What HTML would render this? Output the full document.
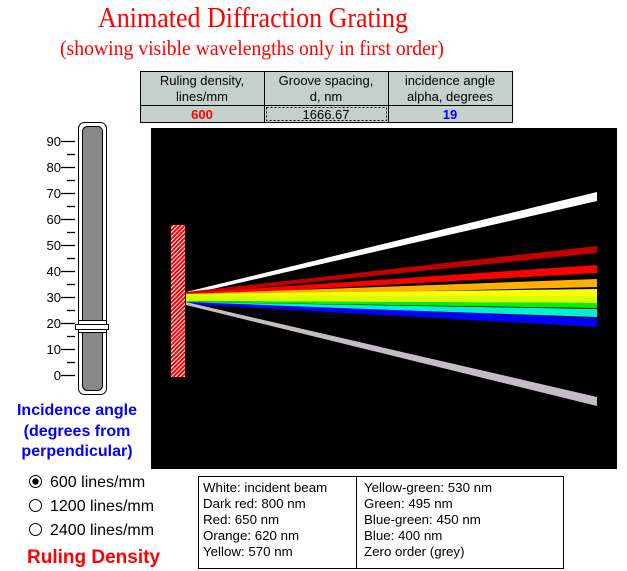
<!DOCTYPE html>
<html><head><style>body{margin:0;background:#fff;width:627px;height:571px;overflow:hidden}</style></head>
<body>
<svg width="627" height="571" xmlns="http://www.w3.org/2000/svg" style="display:block">
<defs>
<pattern id="h" width="3" height="3" patternUnits="userSpaceOnUse" patternTransform="rotate(45)">
<rect width="3" height="3" fill="#f00"/><rect width="1" height="3" fill="#fff"/></pattern>
</defs>
<text x="253" y="27" font-family="Liberation Serif,serif" font-size="29" fill="#f00" text-anchor="middle" textLength="310" lengthAdjust="spacingAndGlyphs">Animated Diffraction Grating</text>
<text x="252" y="55" font-family="Liberation Serif,serif" font-size="21" fill="#f00" text-anchor="middle" textLength="384" lengthAdjust="spacingAndGlyphs">(showing visible wavelengths only in first order)</text>
<g font-family="Liberation Sans,sans-serif" font-size="13" text-anchor="middle">
<rect x="140.5" y="71.5" width="372" height="51" fill="#c4d0cc" stroke="#000"/>
<line x1="140" y1="105.5" x2="512" y2="105.5" stroke="#000"/>
<line x1="264.5" y1="71" x2="264.5" y2="122" stroke="#000"/>
<line x1="388.5" y1="71" x2="388.5" y2="122" stroke="#000"/>
<rect x="266.5" y="107.5" width="120" height="13" fill="none" stroke="#000" stroke-dasharray="2,2"/>
<text x="202" y="85">Ruling density,</text><text x="202" y="101">lines/mm</text>
<text x="326" y="85">Groove spacing,</text><text x="326" y="101">d, nm</text>
<text x="450" y="85">incidence angle</text><text x="450" y="101">alpha, degrees</text>
<text x="202" y="119" fill="#f00" font-weight="bold">600</text>
<text x="326" y="119">1666.67</text>
<text x="450" y="119" fill="#00f" font-weight="bold">19</text>
</g>
<rect x="151" y="128" width="466" height="341" fill="#000"/>
<rect x="171" y="225" width="14" height="152" fill="url(#h)"/>
<polygon points="186,292 186,295 597,201 597,192" fill="#fff"/>
<polygon points="186,292 186,295 597,253 597,246" fill="#c00000"/>
<polygon points="186,293 186,296 597,273 597,265" fill="#f00"/>
<polygon points="186,294 186,297 597,287 597,279" fill="#ffb000"/>
<polygon points="186,294 186,298 597,296 597,289" fill="#ff0"/>
<polygon points="186,295 186,301 597,303 597,296" fill="#d8ff00"/>
<polygon points="186,301 186,302 597,308 597,303" fill="#00f000"/>
<polygon points="186,302 186,303 597,317 597,309" fill="#00f0d0"/>
<polygon points="186,302 186,304 597,327 597,318" fill="#00f"/>
<polygon points="186,302 186,305 597,406 597,397" fill="#c4bcc4"/>
<rect x="78.5" y="122.5" width="28" height="272" rx="6" fill="#fff" stroke="#000"/>
<rect x="82.5" y="126.5" width="20" height="264" rx="5" fill="#888" stroke="#000"/>
<rect x="78.5" y="320.5" width="28" height="12" fill="#fff" stroke="#000"/>
<rect x="75.5" y="324.5" width="33" height="5" fill="#fff" stroke="#000"/>
<g stroke="#000" stroke-width="1.3">
<line x1="61" y1="375.5" x2="75" y2="375.5"/><line x1="61" y1="349.5" x2="75" y2="349.5"/><line x1="61" y1="323.5" x2="75" y2="323.5"/><line x1="61" y1="297.5" x2="75" y2="297.5"/><line x1="61" y1="271.5" x2="75" y2="271.5"/><line x1="61" y1="245.5" x2="75" y2="245.5"/><line x1="61" y1="219.5" x2="75" y2="219.5"/><line x1="61" y1="193.5" x2="75" y2="193.5"/><line x1="61" y1="167.5" x2="75" y2="167.5"/><line x1="61" y1="141.5" x2="75" y2="141.5"/>
<line x1="67" y1="362.5" x2="75" y2="362.5"/><line x1="67" y1="336.5" x2="75" y2="336.5"/><line x1="67" y1="310.5" x2="75" y2="310.5"/><line x1="67" y1="284.5" x2="75" y2="284.5"/><line x1="67" y1="258.5" x2="75" y2="258.5"/><line x1="67" y1="232.5" x2="75" y2="232.5"/><line x1="67" y1="206.5" x2="75" y2="206.5"/><line x1="67" y1="180.5" x2="75" y2="180.5"/><line x1="67" y1="154.5" x2="75" y2="154.5"/>
</g>
<g font-family="Liberation Sans,sans-serif" font-size="13" text-anchor="end">
<text x="61" y="380">0</text><text x="61" y="354">10</text><text x="61" y="328">20</text><text x="61" y="302">30</text><text x="61" y="276">40</text><text x="61" y="250">50</text><text x="61" y="224">60</text><text x="61" y="198">70</text><text x="61" y="172">80</text><text x="61" y="146">90</text>
</g>
<g font-family="Liberation Sans,sans-serif" font-size="16" font-weight="bold" fill="#00f" text-anchor="middle">
<text x="77" y="415">Incidence angle</text><text x="77" y="436">(degrees from</text><text x="77" y="456">perpendicular)</text>
</g>
<g font-family="Liberation Sans,sans-serif" font-size="16">
<circle cx="35.5" cy="481.5" r="6" fill="#fff" stroke="#000"/><circle cx="35.5" cy="481.5" r="3.2" fill="#000"/>
<circle cx="35.5" cy="505.5" r="6" fill="#fff" stroke="#000"/>
<circle cx="35.5" cy="529.5" r="6" fill="#fff" stroke="#000"/>
<text x="50" y="487">600 lines/mm</text><text x="50" y="511">1200 lines/mm</text><text x="50" y="535">2400 lines/mm</text>
</g>
<text x="27" y="563" font-family="Liberation Sans,sans-serif" font-size="19" font-weight="bold" fill="#f00">Ruling Density</text>
<rect x="198.5" y="476.5" width="365" height="92" fill="#fff" stroke="#000"/>
<line x1="356.5" y1="476" x2="356.5" y2="568" stroke="#000"/>
<g font-family="Liberation Sans,sans-serif" font-size="13.3">
<text x="203" y="492">White: incident beam</text><text x="203" y="508">Dark red: 800 nm</text><text x="203" y="524">Red: 650 nm</text><text x="203" y="540">Orange: 620 nm</text><text x="203" y="556">Yellow: 570 nm</text>
<text x="364" y="492">Yellow-green: 530 nm</text><text x="364" y="508">Green: 495 nm</text><text x="364" y="524">Blue-green: 450 nm</text><text x="364" y="540">Blue: 400 nm</text><text x="364" y="556">Zero order (grey)</text>
</g>
</svg>
</body></html>
